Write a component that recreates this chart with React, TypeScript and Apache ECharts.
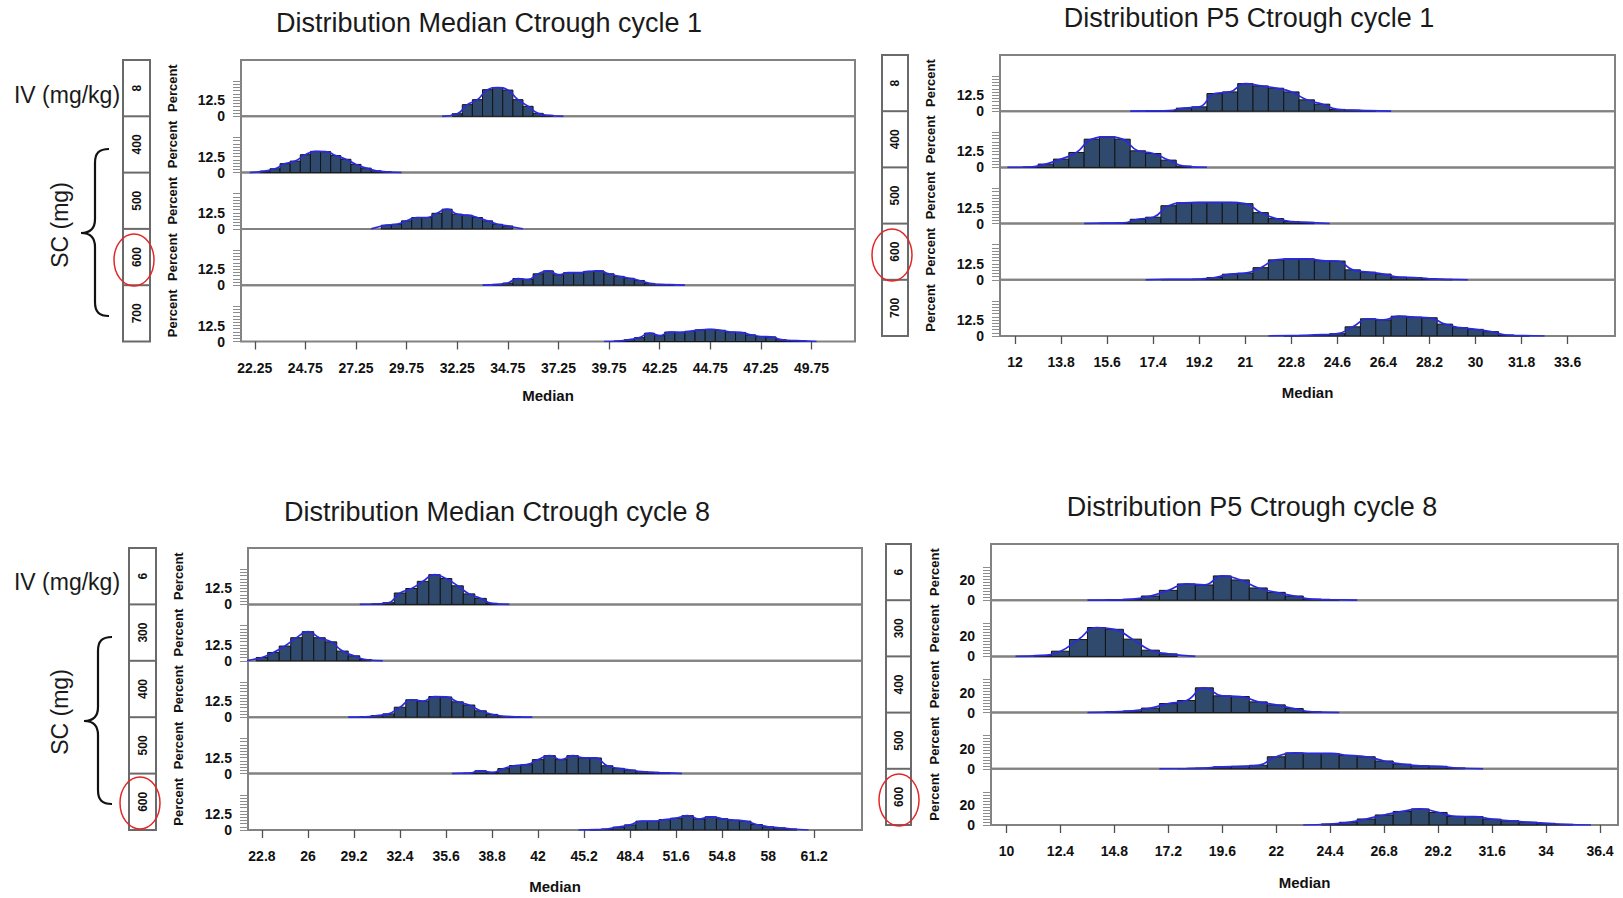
import React, { useEffect, useRef } from 'react';
import * as echarts from 'echarts';

// ---------------- DATA ----------------
const titles = [
  'Distribution Median Ctrough cycle 1',
  'Distribution P5 Ctrough cycle 1',
  'Distribution Median Ctrough cycle 8',
  'Distribution P5 Ctrough cycle 8',
];
const stripCycle1 = ['8', '400', '500', '600', '700'];
const stripCycle8 = ['6', '300', '400', '500', '600'];
const groupLabels = ['IV (mg/kg)', 'SC (mg)'];
const xAxisTitle = 'Median';
const yAxisTitle = 'Percent';

const xTicksMedC1 = ['22.25', '24.75', '27.25', '29.75', '32.25', '34.75', '37.25', '39.75', '42.25', '44.75', '47.25', '49.75'];
const xTicksP5C1 = ['12', '13.8', '15.6', '17.4', '19.2', '21', '22.8', '24.6', '26.4', '28.2', '30', '31.8', '33.6'];
const xTicksMedC8 = ['22.8', '26', '29.2', '32.4', '35.6', '38.8', '42', '45.2', '48.4', '51.6', '54.8', '58', '61.2'];
const xTicksP5C8 = ['10', '12.4', '14.8', '17.2', '19.6', '22', '24.4', '26.8', '29.2', '31.6', '34', '36.4'];

const yLabelsSmall = ['0', '12.5'];
const yLabelsLarge = ['0', '20'];
const yMinorSmall = [0, 2.5, 5, 7.5, 10, 12.5, 15, 17.5, 20, 22.5, 25, 27.5];
const yMinorLarge = [0, 3, 6, 9, 12, 15, 18, 21, 24, 27, 30, 33];

// bin widths of the histograms
const binMedC1 = 0.5;
const binP5C1 = 0.6;
const binMedC8 = 0.8;
const binP5C8 = 0.8;

// left edge of the first bin of each row
const startsMedC1 = [32.0, 22.5, 28.5, 34.0, 40.0];
const startsP5C1 = [17.1, 12.3, 15.3, 17.7, 22.5];
const startsMedC8 = [30.4, 22.4, 29.6, 36.8, 45.6];
const startsP5C8 = [14.4, 11.2, 14.4, 17.6, 24.0];

// Percent per bin
const medC1_iv8 = [2.0, 9.1, 13.0, 20.8, 22.5, 20.5, 13.0, 7.8, 2.3, 0.8];
const medC1_sc400 = [1.2, 3.0, 7.0, 9.0, 14.0, 16.6, 16.4, 13.3, 10.4, 6.4, 3.5, 1.4, 0.6];
const medC1_sc500 = [2.9, 3.6, 6.3, 8.9, 8.9, 12.2, 15.4, 11.5, 10.7, 8.9, 6.3, 3.6, 2.3];
const medC1_sc600 = [0.6, 1.7, 5.2, 4.5, 8.9, 11.2, 8.2, 9.8, 9.8, 10.8, 11.2, 8.9, 6.9, 5.4, 3.7, 1.4, 0.6, 0.4];
const medC1_sc700 = [0.4, 1.4, 3.0, 6.5, 4.6, 7.4, 7.2, 8.0, 9.1, 9.5, 8.8, 7.4, 7.1, 5.2, 3.9, 3.6, 1.4, 0.8, 0.5];

const p5C1_iv8 = [0.2, 0.4, 2.4, 3.4, 13.8, 15.1, 21.6, 19.8, 18.0, 15.1, 8.9, 5.5, 1.4, 0.8, 0.4];
const p5C1_sc400 = [0.3, 2.6, 6.5, 11.7, 22.1, 24.0, 22.1, 13.0, 10.9, 5.7, 1.0];
const p5C1_sc500 = [0.3, 0.5, 3.4, 5.0, 14.0, 16.3, 16.6, 16.6, 16.6, 15.6, 8.6, 3.9, 1.6, 1.0];
const p5C1_sc600 = [0.3, 0.3, 0.5, 1.8, 4.4, 5.2, 9.5, 15.6, 16.4, 16.4, 15.0, 14.7, 7.8, 6.0, 4.5, 2.1, 1.8, 0.8, 0.4];
const p5C1_sc700 = [0.3, 0.5, 1.0, 1.8, 7.2, 13.5, 12.6, 15.5, 14.8, 14.3, 9.3, 6.5, 5.2, 3.4, 0.8, 0.3];

const medC8_iv6 = [0.3, 1.3, 8.9, 12.4, 18.0, 23.2, 20.2, 14.5, 8.2, 4.7, 0.8];
const medC8_sc300 = [2.6, 6.5, 11.5, 18.0, 22.7, 18.0, 14.8, 7.6, 3.9, 1.0];
const medC8_sc400 = [0.3, 1.3, 2.6, 7.8, 13.6, 12.6, 16.1, 15.8, 12.0, 9.5, 5.0, 2.2, 0.7, 0.3];
const medC8_sc500 = [0.3, 2.2, 0.9, 3.9, 6.3, 7.0, 10.9, 14.0, 10.9, 14.0, 12.3, 12.2, 6.1, 4.1, 2.8, 1.5, 1.0, 0.5];
const medC8_sc600 = [0.3, 0.8, 2.3, 4.0, 6.9, 6.9, 8.1, 9.2, 11.2, 8.6, 10.3, 8.8, 7.7, 6.9, 4.3, 2.5, 1.7, 0.8];

const p5C8_iv6 = [0.3, 1.0, 4.2, 9.8, 16.2, 15.2, 24.2, 20.2, 12.2, 7.8, 4.2, 1.0, 0.5];
const p5C8_sc300 = [1.0, 5.2, 16.8, 28.8, 27.0, 17.2, 6.2, 2.5];
const p5C8_sc400 = [0.7, 1.7, 4.5, 9.0, 12.0, 24.7, 16.7, 16.0, 10.7, 7.7, 4.0, 0.7];
const p5C8_sc500 = [0.3, 0.7, 2.0, 2.5, 3.5, 12.0, 15.8, 15.3, 15.3, 13.3, 12.0, 7.8, 4.6, 3.0, 2.5, 0.8];
const p5C8_sc600 = [1.0, 2.7, 6.0, 10.0, 13.5, 16.0, 12.5, 8.5, 8.3, 5.8, 4.2, 2.8, 1.7, 0.7];

// ---------------- LAYOUT / STYLE ----------------
const FONT = 'Liberation Sans, Arial, Helvetica, sans-serif';
const BAR_FILL = '#2f4a6d';
const BAR_EDGE = '#141414';
const CURVE = '#2a2ae0';
const FRAME = '#828282';

const panels = [
  { title: titles[0], tx: 489, ty: 23, left: 241, right: 855, top: 60, bottom: 341.5, stripX: 123, stripW: 27, pctX: 172, xmin: 21.57, xmax: 51.9, ymax: 44, ticks: xTicksMedC1, yLab: yLabelsSmall, yMinor: yMinorSmall, strips: stripCycle1, bin: binMedC1, starts: startsMedC1, rows: [medC1_iv8, medC1_sc400, medC1_sc500, medC1_sc600, medC1_sc700], medY: 395, ell: { cx: 134, cy: 260 } },
  { title: titles[1], tx: 1249, ty: 18, left: 1000, right: 1615, top: 55, bottom: 336, stripX: 882, stripW: 26, pctX: 930, xmin: 11.41, xmax: 35.45, ymax: 44, ticks: xTicksP5C1, yLab: yLabelsSmall, yMinor: yMinorSmall, strips: stripCycle1, bin: binP5C1, starts: startsP5C1, rows: [p5C1_iv8, p5C1_sc400, p5C1_sc500, p5C1_sc600, p5C1_sc700], medY: 392, ell: { cx: 892, cy: 255 } },
  { title: titles[2], tx: 497, ty: 512, left: 248, right: 862, top: 548, bottom: 830, stripX: 129, stripW: 27, pctX: 178, xmin: 21.83, xmax: 64.52, ymax: 44, ticks: xTicksMedC8, yLab: yLabelsSmall, yMinor: yMinorSmall, strips: stripCycle8, bin: binMedC8, starts: startsMedC8, rows: [medC8_iv6, medC8_sc300, medC8_sc400, medC8_sc500, medC8_sc600], medY: 886, ell: { cx: 140, cy: 803 } },
  { title: titles[3], tx: 1252, ty: 507, left: 991, right: 1618, top: 544, bottom: 825, stripX: 886, stripW: 25, pctX: 934, xmin: 9.31, xmax: 37.2, ymax: 56, ticks: xTicksP5C8, yLab: yLabelsLarge, yMinor: yMinorLarge, strips: stripCycle8, bin: binP5C8, starts: startsP5C8, rows: [p5C8_iv6, p5C8_sc300, p5C8_sc400, p5C8_sc500, p5C8_sc600], medY: 882, ell: { cx: 899, cy: 800 } },
];

const bracePath = 'M28,0 C18,0 14,4 14,14 L14,70 C14,79 10,84 0,84 C10,84 14,89 14,98 L14,153 C14,163 18,167 28,167';
echarts.graphic.registerShape('brace', echarts.graphic.extendPath(bracePath, {}));

function labelFormatter(list: string[]) {
  return (v: number) => {
    const t = list.find((s) => Math.abs(Number(s) - v) < 1e-6);
    return t === undefined ? '' : t;
  };
}

function buildOption() {
  const grid: any[] = [];
  const xAxis: any[] = [];
  const yAxis: any[] = [];
  const series: any[] = [];
  const elements: any[] = [];

  panels.forEach((p, pi) => {
    const rowH = (p.bottom - p.top) / 5;
    const xVals = p.ticks.map(Number);
    const yVals = p.yLab.map(Number);
    elements.push({
      type: 'text', x: p.tx, y: p.ty, silent: true,
      style: { text: p.title, fontSize: 27, fontFamily: FONT, fill: '#1a1a1a', align: 'center', verticalAlign: 'middle' },
    });
    elements.push({
      type: 'rect', silent: true,
      shape: { x: p.stripX, y: p.top, width: p.stripW, height: p.bottom - p.top },
      style: { fill: 'none', stroke: '#6a6a6a', lineWidth: 2 },
    });
    elements.push({
      type: 'text', x: p.left + (p.right - p.left) / 2, y: p.medY, silent: true,
      style: { text: xAxisTitle, fontSize: 15, fontWeight: 'bold', fontFamily: FONT, fill: '#111', align: 'center', verticalAlign: 'middle' },
    });
    elements.push({
      type: 'ellipse', silent: true, z: 10,
      shape: { cx: p.ell.cx, cy: p.ell.cy, rx: 20, ry: 26 },
      style: { fill: 'none', stroke: '#e02828', lineWidth: 1.5 },
    });

    for (let r = 0; r < 5; r++) {
      const idx = pi * 5 + r;
      const top = p.top + r * rowH;
      const isBottom = r === 4;
      if (r > 0) {
        elements.push({
          type: 'line', silent: true,
          shape: { x1: p.stripX, y1: top, x2: p.stripX + p.stripW, y2: top },
          style: { stroke: '#6a6a6a', lineWidth: 2 },
        });
      }
      elements.push({
        type: 'text', x: p.stripX + p.stripW / 2, y: top + rowH / 2, rotation: Math.PI / 2, silent: true,
        style: { text: p.strips[r], fontSize: 12, fontWeight: 'bold', fontFamily: FONT, fill: '#111', align: 'center', verticalAlign: 'middle' },
      });
      elements.push({
        type: 'text', x: p.pctX, y: top + rowH / 2, rotation: Math.PI / 2, silent: true,
        style: { text: yAxisTitle, fontSize: 13, fontWeight: 'bold', fontFamily: FONT, fill: '#111', align: 'center', verticalAlign: 'middle' },
      });

      grid.push({
        left: p.left, top, width: p.right - p.left, height: rowH,
        show: true, borderColor: FRAME, borderWidth: 2, backgroundColor: 'rgba(0,0,0,0)',
        containLabel: false, outerBoundsMode: 'none',
      });
      xAxis.push({
        gridIndex: idx, type: 'value', min: p.xmin, max: p.xmax, show: isBottom,
        axisLine: { show: false }, splitLine: { show: false },
        axisTick: { show: isBottom, customValues: xVals, length: 8, lineStyle: { color: '#505050', width: 1.3 } },
        axisLabel: { show: isBottom, customValues: xVals, formatter: labelFormatter(p.ticks), margin: 19, fontSize: 14, fontWeight: 'bold', fontFamily: FONT, color: '#111' },
      });
      yAxis.push({
        gridIndex: idx, type: 'value', min: 0, max: p.ymax,
        axisLine: { show: false }, splitLine: { show: false },
        axisTick: { show: true, customValues: p.yMinor, length: 8, lineStyle: { color: '#8c8c8c', width: 1 } },
        axisLabel: { customValues: yVals, formatter: labelFormatter(p.yLab), margin: 16, fontSize: 14, fontWeight: 'bold', fontFamily: FONT, color: '#111' },
      });

      const heights = p.rows[r];
      const start = p.starts[r];
      const w = p.bin;
      const bins = heights.map((h, i) => [start + i * w, start + (i + 1) * w, h]);
      const curve: number[][] = [[start - w, 0]];
      heights.forEach((h, i) => curve.push([start + (i + 0.5) * w, h]));
      curve.push([start + (heights.length + 1) * w, 0]);

      series.push({
        type: 'custom', xAxisIndex: idx, yAxisIndex: idx, silent: true, z: 2,
        encode: { x: [0, 1], y: 2 },
        data: bins,
        renderItem: (params: any, api: any) => {
          const a = api.coord([api.value(0), api.value(2)]);
          const b = api.coord([api.value(1), 0]);
          return {
            type: 'rect',
            shape: { x: a[0], y: a[1], width: b[0] - a[0], height: b[1] - a[1] },
            style: { fill: BAR_FILL, stroke: BAR_EDGE, lineWidth: 1 },
          };
        },
      });
      series.push({
        type: 'line', xAxisIndex: idx, yAxisIndex: idx, silent: true, z: 3,
        data: curve, smooth: 0.5, symbol: 'none', showSymbol: false,
        lineStyle: { color: CURVE, width: 1.7 },
      });
    }
  });

  [
    { ivY: 95, scY: 225, braceX: 81, braceY: 149 },
    { ivY: 582, scY: 712, braceX: 84, braceY: 637 },
  ].forEach((g) => {
    elements.push({
      type: 'text', x: 67, y: g.ivY, silent: true,
      style: { text: groupLabels[0], fontSize: 23, fontFamily: FONT, fill: '#1a1a1a', align: 'center', verticalAlign: 'middle' },
    });
    elements.push({
      type: 'text', x: 60, y: g.scY, rotation: Math.PI / 2, silent: true,
      style: { text: groupLabels[1], fontSize: 23, fontFamily: FONT, fill: '#1a1a1a', align: 'center', verticalAlign: 'middle' },
    });
    elements.push({
      type: 'brace', x: g.braceX, y: g.braceY, silent: true,
      style: { fill: 'none', stroke: '#111', lineWidth: 2.2 },
    });
  });

  return {
    animation: false,
    backgroundColor: '#ffffff',
    grid, xAxis, yAxis, series,
    graphic: { elements },
  };
}

export default function App() {
  const ref = useRef<HTMLDivElement>(null);
  useEffect(() => {
    if (!ref.current) return;
    const chart = echarts.init(ref.current, undefined, { renderer: 'svg' });
    chart.setOption(buildOption() as any);
    return () => chart.dispose();
  }, []);
  return (
    <div
      ref={ref}
      style={{ position: 'fixed', left: 0, top: 0, width: 1623, height: 898, background: '#fff' }}
    />
  );
}
